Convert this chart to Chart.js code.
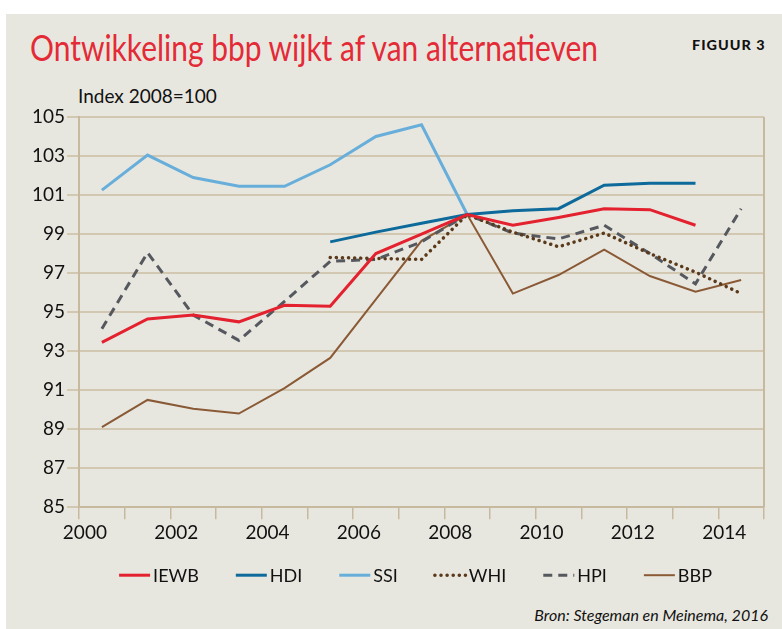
<!DOCTYPE html>
<html>
<head>
<meta charset="utf-8">
<script src="https://cdn.jsdelivr.net/npm/chart.js@4"></script>
<style>
body{margin:0;background:#fff;width:782px;height:629px;overflow:hidden;position:relative;}
#panel{position:absolute;left:6px;top:14px;width:776px;height:615px;background:#e8e7df;}
#mycanvas{position:absolute;left:0;top:0;}
.txt{position:absolute;white-space:nowrap;line-height:1;font-family:Lato,sans-serif;transform-origin:0 0;}
#title{left:30px;top:28px;font-size:37px;color:#e42a37;}
#fig{left:692px;top:38px;font-size:14px;font-weight:900;letter-spacing:1px;color:#111;}
#unit{left:78px;top:86px;font-size:19px;color:#111;}
#bron{right:14px;top:607px;font-size:16px;font-style:italic;color:#111;}
</style>
</head>
<body>
<div id="panel"></div>
<div class="txt" id="title">Ontwikkeling bbp wijkt af van alternatieven</div>
<div class="txt" id="fig">FIGUUR 3</div>
<div class="txt" id="unit">Index 2008=100</div>
<div class="txt" id="bron">Bron: Stegeman en Meinema, 2016</div>
<canvas id="mycanvas" width="782" height="629"></canvas>
<script>
var years=['2000','2001','2002','2003','2004','2005','2006','2007','2008','2009','2010','2011','2012','2013','2014'];
var yTicks=[85,87,89,91,93,95,97,99,101,103,105];
var iewb=[93.45,94.65,94.85,94.5,95.35,95.3,98.0,99.0,100,99.45,99.85,100.3,100.25,99.45,null];
var hdi=[null,null,null,null,null,98.6,99.1,99.55,100,100.2,100.3,101.5,101.6,101.6,null];
var ssi=[101.25,103.05,101.9,101.45,101.45,102.55,104.0,104.6,100.0,null,null,null,null,null,null];
var whi=[null,null,null,null,null,97.8,97.75,97.7,100,99.1,98.35,99.05,98.0,97.05,95.95];
var hpi=[94.15,98.05,94.85,93.55,95.55,97.6,97.7,98.6,100,99.05,98.75,99.45,98.0,96.45,100.3];
var bbp=[89.1,90.5,90.05,89.8,91.1,92.65,95.65,98.65,100,95.95,96.9,98.2,96.85,96.05,96.65];

// squeeze the condensed-looking texts to their width in the figure
function fit(id,w){
	var el=document.getElementById(id);
	el.style.transform='scaleX('+(w/el.scrollWidth)+')';
}
fit('title',568);
fit('fig',74);

var gridCol='#d2c8b2';
var axisCol='#c6b99e';

// right edge of the plot box
var frame={
	id:'frame',
	afterDraw:function(chart){
		var a=chart.chartArea, ctx=chart.ctx;
		ctx.save();
		ctx.strokeStyle=axisCol;
		ctx.lineWidth=2;
		ctx.beginPath();
		ctx.moveTo(a.right,a.top);
		ctx.lineTo(a.right,a.bottom);
		ctx.stroke();
		ctx.restore();
	}
};

// legend row: short line in the series style, text right after it
var legendRow={
	id:'legendRow',
	afterDraw:function(chart){
		var ctx=chart.ctx, a=chart.chartArea;
		var lineLen=31, gap=3, space=37;
		ctx.save();
		ctx.font='18px Lato';
		ctx.textBaseline='middle';
		var sets=chart.data.datasets;
		var total=0;
		sets.forEach(function(d,i){
			total+=lineLen+gap+ctx.measureText(d.label).width+(i<sets.length-1?space:0);
		});
		var x=(a.left+a.right)/2-6-total/2;
		var y=a.bottom+68;
		sets.forEach(function(d){
			ctx.strokeStyle=d.borderColor;
			ctx.lineWidth=d.borderWidth;
			ctx.setLineDash(d.borderDash);
			ctx.lineCap=d.borderCapStyle;
			ctx.beginPath();
			ctx.moveTo(x,y);
			ctx.lineTo(x+lineLen,y);
			ctx.stroke();
			ctx.setLineDash([]);
			ctx.fillStyle='#111';
			ctx.fillText(d.label,x+lineLen+gap,y+1);
			x+=lineLen+gap+ctx.measureText(d.label).width+space;
		});
		ctx.restore();
	}
};

function ds(label,data,color,width,dash){
	return {
		label:label,
		data:data,
		borderColor:color,
		backgroundColor:color,
		borderWidth:width,
		borderDash:dash||[],
		borderCapStyle:dash && dash[0]<1 ? 'round' : 'butt',
		pointRadius:0,
		tension:0,
		fill:false
	};
}

var ctx=document.getElementById('mycanvas');
var chart=new Chart(ctx,{
	type:'line',
	data:{
		labels:years,
		datasets:[
			ds('IEWB',iewb,'#e3212f',3),
			ds('HDI',hdi,'#0d6a9b',3),
			ds('SSI',ssi,'#68aedb',3),
			ds('WHI',whi,'#5b3a1c',3.5,[0.1,6]),
			ds('HPI',hpi,'#55585e',3,[9,6]),
			ds('BBP',bbp,'#8a5a36',2)
		]
	},
	options:{
		responsive:false,
		animation:false,
		layout:{padding:{left:30,right:18,top:117,bottom:83}},
		plugins:{
			tooltip:{enabled:false},
			legend:{display:false}
		},
		scales:{
			x:{
				type:'category',
				offset:true,
				grid:{offset:true,drawOnChartArea:false,color:axisCol,lineWidth:1.5,tickLength:12},
				border:{color:axisCol,width:2},
				ticks:{
					autoSkip:false,
					maxRotation:0,
					labelOffset:-17,
					padding:2,
					color:'#111',
					font:{family:'Lato',size:19},
					callback:function(v,i){return i%2===0 ? years[i] : '';}
				}
			},
			y:{
				min:85,
				max:105,
				afterBuildTicks:function(axis){axis.ticks=yTicks.map(function(v){return {value:v};});},
				grid:{color:gridCol,lineWidth:2,tickLength:12},
				border:{color:axisCol,width:2},
				ticks:{padding:2,color:'#111',font:{family:'Lato',size:19}}
			}
		}
	},
	plugins:[frame,legendRow]
});
</script>
</body>
</html>
